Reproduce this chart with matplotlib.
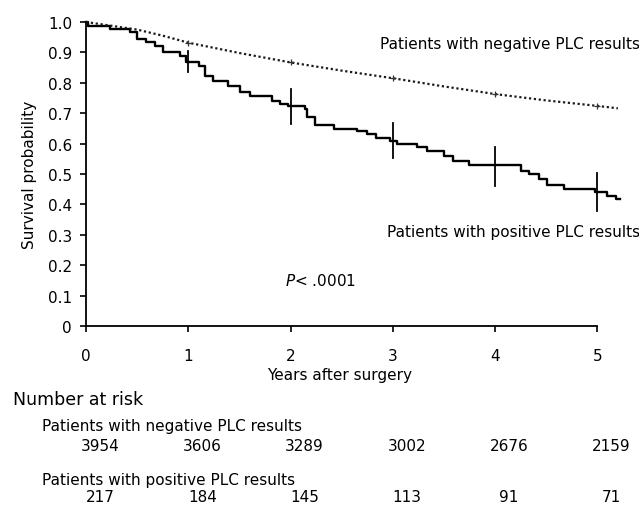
import matplotlib.pyplot as plt
from matplotlib.transforms import blended_transform_factory

# positive PLC curve (Kaplan-Meier steps)
pos_t = [0, 0.02, 0.235, 0.43, 0.50, 0.59, 0.675, 0.75, 0.92, 0.98, 1.10, 1.165, 1.245,
         1.39, 1.51, 1.60, 1.82, 1.90, 1.97, 2.14, 2.16, 2.24, 2.42, 2.65, 2.75, 2.84,
         2.97, 3.04, 3.24, 3.33, 3.50, 3.59, 3.74, 4.25, 4.33, 4.43, 4.51, 4.67, 4.98,
         5.09, 5.18, 5.22]
pos_s = [1.0, 0.988, 0.977, 0.966, 0.944, 0.933, 0.922, 0.90, 0.889, 0.87, 0.856, 0.823, 0.807,
         0.79, 0.77, 0.758, 0.741, 0.73, 0.725, 0.714, 0.686, 0.66, 0.648, 0.642, 0.63, 0.62,
         0.61, 0.60, 0.588, 0.577, 0.56, 0.544, 0.53, 0.511, 0.50, 0.484, 0.464, 0.45, 0.44,
         0.427, 0.418, 0.418]

# negative PLC curve
neg_t = [0, 0.1, 0.5, 0.75, 1.0, 1.5, 2.0, 2.5, 3.0, 3.5, 4.0, 4.5, 5.0, 5.2]
neg_s = [1.0, 0.995, 0.975, 0.955, 0.932, 0.898, 0.867, 0.840, 0.815, 0.788, 0.763, 0.742, 0.724, 0.716]

# marks at each year
mark_years = [1, 2, 3, 4, 5]
pos_mark_s = [0.87, 0.722, 0.61, 0.525, 0.44]
pos_mark_half = [0.036, 0.058, 0.058, 0.064, 0.063]
neg_mark_s = [0.932, 0.867, 0.815, 0.763, 0.724]

years = [0, 1, 2, 3, 4, 5]
risk_neg = [3954, 3606, 3289, 3002, 2676, 2159]
risk_pos = [217, 184, 145, 113, 91, 71]

plt.rcParams['font.family'] = 'DejaVu Sans'
plt.rcParams['font.size'] = 11

fig = plt.figure(figsize=(6.39, 5.06), dpi=100)
ax = fig.add_axes([86/639, 179/506, 537/639, 304/506])

ax.step(pos_t, pos_s, where='post', color='black', lw=1.7, clip_on=False)
ax.plot(neg_t, neg_s, color='#1a1a1a', lw=1.6, ls=(0, (1, 1.2)), clip_on=False)

for x, s, h in zip(mark_years, pos_mark_s, pos_mark_half):
    ax.plot([x, x], [s - h, s + h], color='black', lw=1.3)
ax.plot(mark_years, neg_mark_s, ls='none', marker='+', ms=5, mew=0.9, color='#333333')

ax.set_xlim(0, 5.25)
ax.set_ylim(0, 1.0)
ax.spines['top'].set_visible(False)
ax.spines['right'].set_visible(False)
ax.spines['bottom'].set_bounds(0, 5)
ax.spines['left'].set_linewidth(1.3)
ax.spines['bottom'].set_linewidth(1.3)
ax.set_xticks(years)
ax.set_yticks([i / 10 for i in range(11)])
ax.set_yticklabels(['0'] + ['%.1f' % (i / 10) for i in range(1, 11)])
ax.tick_params(direction='out', length=4, width=1.2, pad=6)
ax.tick_params(axis='x', pad=12)
ax.set_xlabel('Years after surgery')
ax.xaxis.set_label_coords(0.473, -0.135)
ax.set_ylabel('Survival probability', labelpad=8)

ax.text(5.42, 0.93, 'Patients with negative PLC results', ha='right', va='center', clip_on=False)
ax.text(5.42, 0.31, 'Patients with positive PLC results', ha='right', va='center', clip_on=False)
ax.text(1.95, 0.15, r'$P$' + '< .0001', ha='left', va='center')

tr = blended_transform_factory(ax.transData, fig.transFigure)
fig.text(13/639, 1 - 400/506, 'Number at risk', ha='left', va='center', fontsize=12.5)
fig.text(42/639, 1 - 426/506, 'Patients with negative PLC results', ha='left', va='center')
fig.text(42/639, 1 - 481/506, 'Patients with positive PLC results', ha='left', va='center')
for x, n in zip(years, risk_neg):
    fig.text(x + 0.137, 1 - 447/506, str(n), ha='center', va='center', transform=tr)
for x, n in zip(years, risk_pos):
    fig.text(x + 0.137, 1 - 498/506, str(n), ha='center', va='center', transform=tr)

fig.savefig('out.png', dpi=100)
